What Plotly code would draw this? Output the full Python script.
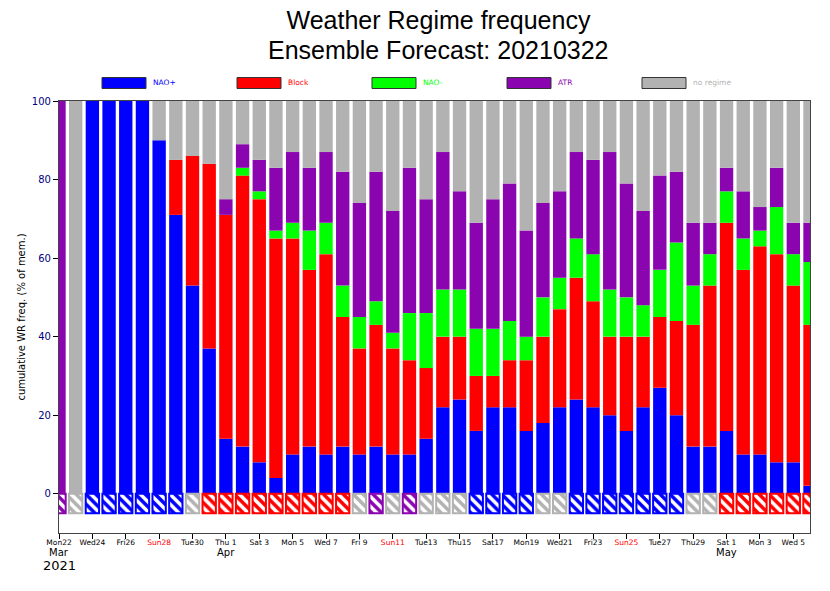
import plotly.graph_objects as go
import numpy as np

# cumulative tops, one per day from Mon 22 Mar to Thu 6 May
nao_plus = [0, 0, 100, 100, 100, 100, 90, 71, 53, 37, 14, 12, 8, 4, 10, 12, 10, 12, 10, 12, 10, 10, 14,
            22, 24, 16, 22, 22, 16, 18, 22, 24, 22, 20, 16, 22, 27, 20, 12, 12, 16, 10, 10, 8, 8, 2]
block = [0, 0, 100, 100, 100, 100, 90, 85, 86, 84, 71, 81, 75, 65, 65, 57, 61, 45, 37, 43, 37, 34, 32,
         40, 40, 30, 30, 34, 34, 40, 47, 55, 49, 40, 40, 40, 45, 44, 43, 53, 69, 57, 63, 61, 53, 43]
nao_minus = [0, 0, 100, 100, 100, 100, 90, 85, 86, 84, 71, 83, 77, 67, 69, 67, 69, 53, 45, 49, 41, 46, 46,
             52, 52, 42, 42, 44, 40, 50, 55, 65, 61, 52, 50, 48, 57, 64, 53, 61, 77, 65, 67, 73, 61, 59]
atr = [100, 0, 100, 100, 100, 100, 90, 85, 86, 84, 75, 89, 85, 83, 87, 83, 87, 82, 74, 82, 72, 83, 75,
       87, 77, 69, 75, 79, 67, 74, 77, 87, 85, 87, 79, 72, 81, 82, 69, 69, 83, 77, 73, 83, 69, 69]

# dominant regime of each day, shown in the hatched row under zero
dominant = ["ATR", "none", "NAO+", "NAO+", "NAO+", "NAO+", "NAO+", "NAO+", "none",
            "Block", "Block", "Block", "Block", "Block", "Block", "Block", "Block", "Block",
            "none", "ATR", "none", "ATR", "none", "none", "none",
            "NAO+", "NAO+", "NAO+", "NAO+", "none", "none",
            "NAO+", "NAO+", "NAO+", "NAO+", "NAO+", "NAO+", "NAO+", "none", "none",
            "Block", "Block", "Block", "Block", "Block", "Block"]

tick_days = list(range(0, 46, 2))
tick_labels = ["Mon22", "Wed24", "Fri26", "Sun28", "Tue30", "Thu 1", "Sat 3", "Mon 5", "Wed 7", "Fri 9",
               "Sun11", "Tue13", "Thu15", "Sat17", "Mon19", "Wed21", "Fri23", "Sun25", "Tue27", "Thu29",
               "Sat 1", "Mon 3", "Wed 5"]
months = ["Mar", "Apr", "May"]
month_days = [0, 10, 40]

regimes = ["NAO+", "Block", "NAO-", "ATR", "no regime"]
colors = {"NAO+": "#0000FF", "Block": "#FF0000", "NAO-": "#00FF00", "ATR": "#8A05B0", "no regime": "#B2B2B2"}
colors["none"] = colors["no regime"]

days = np.arange(len(nao_plus))
tops = np.array([nao_plus, block, nao_minus, atr, [100] * len(days)])
shares = np.diff(tops, axis=0, prepend=0)

fig = go.Figure()
for name, share in zip(regimes, shares):
    fig.add_trace(go.Bar(x=days, y=share, name=name, marker=dict(color=colors[name], line_width=0)))

edge = [colors[d] for d in dominant]
fig.add_trace(go.Bar(
    x=days, y=[-5] * len(days), name="dominant",
    marker=dict(color="white", line=dict(color=edge, width=2),
                pattern=dict(shape="\\", fgcolor=edge, bgcolor="white", size=7, solidity=0.5, fillmode="replace"))))

labels = []
for d, lab in zip(tick_days, tick_labels):
    labels.append('<span style="color:red">%s</span>' % lab if lab.startswith("Sun") else lab)

# plot area in page pixels
left, right, top, bottom = 59, 810, 100.5, 533
def px(x):
    return (x - left) / (right - left)
def py(y):
    return (bottom - y) / (bottom - top)

shapes = []
annotations = []
for i, name in enumerate(regimes):
    x0 = 102 + i * 135
    shapes.append(dict(type="rect", xref="paper", yref="paper", x0=px(x0), x1=px(x0 + 44), y0=py(88), y1=py(77),
                       fillcolor=colors[name], line=dict(color="#333333", width=1)))
    annotations.append(dict(xref="paper", yref="paper", x=px(x0 + 49), y=py(82), text=name, showarrow=False,
                            xanchor="left", yanchor="middle", font=dict(size=7.5, color=colors[name])))

for d, m in zip(month_days, months):
    annotations.append(dict(x=d, xref="x", yref="paper", y=py(552.5), text=m, showarrow=False,
                            xanchor="center", yanchor="middle", font=dict(size=10, color="black")))
annotations.append(dict(x=0, xref="x", yref="paper", y=py(566), text="2021", showarrow=False,
                        xanchor="center", yanchor="middle", font=dict(size=13, color="black")))

# second title line sits closer than plotly's own line spacing would put it
annotations.append(dict(xref="paper", yref="paper", x=px(438.5), y=py(49.5), text="Ensemble Forecast: 20210322",
                        showarrow=False, xanchor="center", yanchor="middle",
                        font=dict(family="Liberation Sans", size=25, color="black")))

fig.update_layout(
    width=830, height=591, autosize=False,
    margin=dict(l=left, r=830 - right, t=top, b=591 - bottom),
    barmode="relative", bargap=0.2, showlegend=False,
    plot_bgcolor="white", paper_bgcolor="white",
    font=dict(family="DejaVu Sans", color="black"),
    title=dict(text="Weather Regime frequency", x=438.5 / 830, xanchor="center",
               y=1 - 20.5 / 591, yanchor="middle",
               font=dict(family="Liberation Sans", size=25, color="black")),
    shapes=shapes, annotations=annotations,
    xaxis=dict(range=[0, 45], tickvals=tick_days, ticktext=labels, tickangle=0, ticks="outside", ticklen=5,
               ticklabelstandoff=-3,
               tickcolor="black", tickfont=dict(size=7.5, color="black"), showgrid=False, zeroline=False,
               showline=True, linecolor="#444444", linewidth=1.2, mirror=True),
    yaxis=dict(range=[-10, 100], tickvals=[0, 20, 40, 60, 80, 100], ticks="outside", ticklen=5,
               tickcolor="black", tickfont=dict(size=10, color="#000080"), showgrid=False, zeroline=False,
               showline=True, linecolor="#444444", linewidth=1.2, mirror=True,
               title=dict(text="cumulative WR freq. (% of mem.)", font=dict(size=10, color="black"), standoff=4)),
)

fig.write_html("out.html", config={"displayModeBar": False}, post_script="document.body.style.margin = '0';")
